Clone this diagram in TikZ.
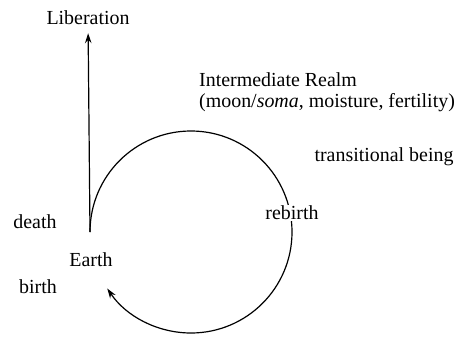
\documentclass[tikz,border=0pt]{standalone}
\usepackage{fontspec}
\setmainfont{Liberation Serif}
\usetikzlibrary{arrows.meta,positioning}

\begin{document}
\begin{tikzpicture}[x=1bp, y=1bp,
    lbl/.style={font=\fontsize{20}{21}\selectfont, inner sep=1pt},
    flow/.style={line width=1.2pt, -{Stealth[length=10bp, width=6.5bp]}}]
  \useasboundingbox (0,0) rectangle (463,336);
  % cycle of existence
  \coordinate (C) at (191,104);
  \coordinate (L) at (90,104);
  \node[lbl] (Lib) at (88,318) {Liberation};
  \draw[flow] (L) arc[start angle=180, end angle=-146, radius=101];
  \draw[flow, shorten >=7bp] (L) -- (Lib);
  \node[lbl, align=left, anchor=west] (Realm) at (198,244)
    {Intermediate Realm\\(moon/\textit{soma}, moisture, fertility)};
  \node[lbl] (Trans) at (384,179) {transitional being};
  \node[lbl, fill=white] (Rebirth) at (292,123) {rebirth};
  \node[lbl] (Death) at (35,114) {death};
  \node[lbl] (Earth) at (91,76) {Earth};
  \node[lbl] (Birth) at (38,49) {birth};
\end{tikzpicture}
\end{document}
